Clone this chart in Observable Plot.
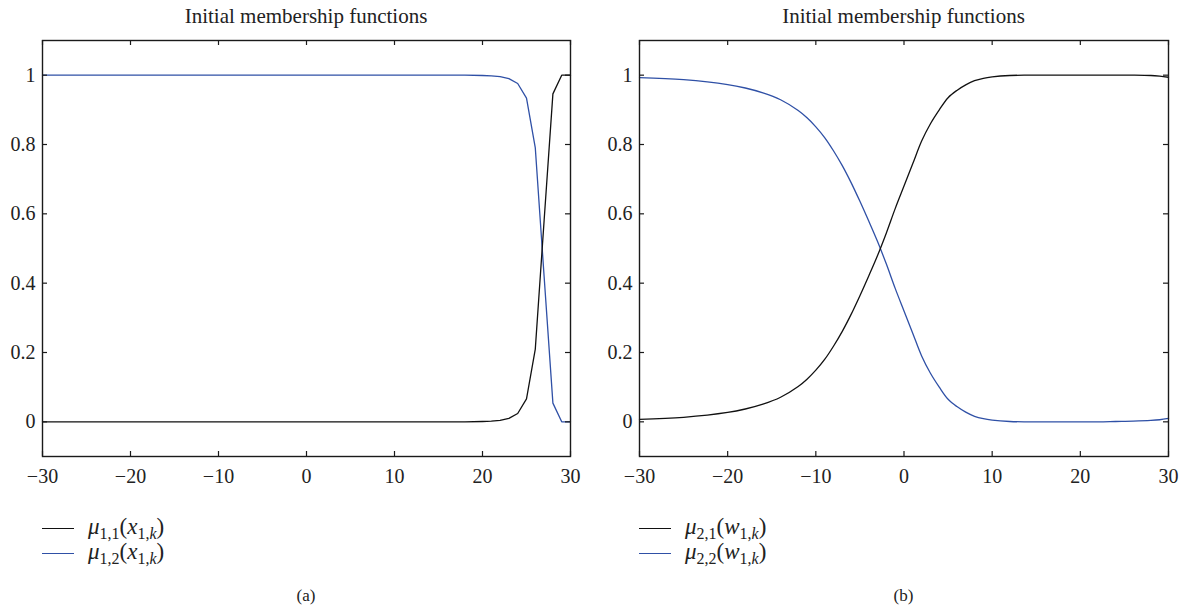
<!DOCTYPE html>
<html><head><meta charset="utf-8">
<script src="https://cdn.jsdelivr.net/npm/d3@7"></script>
<script src="https://cdn.jsdelivr.net/npm/@observablehq/plot@0.6"></script>
<style>
html,body{margin:0;padding:0;background:#fff;width:1183px;height:610px;overflow:hidden;font-family:"Liberation Serif",serif;color:#222}
.panel{position:absolute;top:0;height:610px}
.title{position:absolute;top:4px;font-size:21px;line-height:24px;text-align:center;white-space:nowrap}
.chart{position:absolute;top:30px;left:0}
.legend{position:absolute;top:514px;font-size:23px}
.row{position:relative;height:25px;width:220px}
.swatch{position:absolute;left:0;top:14px;width:32px;height:0;border-top:1.4px solid}
.lab{position:absolute;left:46px;top:0;white-space:nowrap;line-height:25px}
sub{font-size:16px;vertical-align:baseline;position:relative;top:5px}
.cap{position:absolute;top:586px;font-size:17px;text-align:center}
</style></head>
<body>
<script>
// ---- data ----
const titleText = "Initial membership functions";
const xTicks = [-30, -20, -10, 0, 10, 20, 30];
const yTicks = [0, 0.2, 0.4, 0.6, 0.8, 1];
const yTickLabels = ["0", "0.2", "0.4", "0.6", "0.8", "1"];

// Panel (a): μ1,1(x1,k), μ1,2(x1,k)
const xA = [-30, 15, 18, 20, 21, 22, 23, 24, 25, 26, 27, 28, 29, 30];
const mu11 = [0, 0, 0, 0.001, 0.002, 0.004, 0.01, 0.024, 0.066, 0.21, 0.58, 0.946, 1, 1];
const mu12 = [1, 1, 1, 0.999, 0.998, 0.996, 0.99, 0.976, 0.934, 0.79, 0.42, 0.054, 0, 0];

// Panel (b): μ2,1(w1,k), μ2,2(w1,k)
const xB = [-30, -25, -20, -18, -16, -14, -12, -11, -10, -9, -8, -7, -6, -5, -4, -3, -2, -1, 0, 1, 2, 3, 4, 5, 6, 7, 8, 9, 10, 12, 14, 18, 22, 24, 26, 28, 29, 30];
const mu21 = [0.007, 0.013, 0.027, 0.037, 0.051, 0.071, 0.102, 0.123, 0.149, 0.18, 0.218, 0.261, 0.31, 0.364, 0.421, 0.48, 0.545, 0.615, 0.68, 0.745, 0.81, 0.86, 0.90, 0.935, 0.956, 0.972, 0.984, 0.991, 0.995, 0.999, 1, 1, 1, 1, 1, 0.999, 0.997, 0.994];
const mu22 = [0.993, 0.987, 0.973, 0.963, 0.949, 0.929, 0.898, 0.877, 0.851, 0.82, 0.782, 0.739, 0.69, 0.636, 0.579, 0.52, 0.455, 0.385, 0.32, 0.255, 0.19, 0.14, 0.10, 0.065, 0.044, 0.028, 0.016, 0.009, 0.005, 0.001, 0, 0, 0, 0.001, 0.002, 0.004, 0.006, 0.01];

const legendA = ['<i>μ</i><sub>1,1</sub>(<i>x</i><sub>1,<i>k</i></sub>)', '<i>μ</i><sub>1,2</sub>(<i>x</i><sub>1,<i>k</i></sub>)'];
const legendB = ['<i>μ</i><sub>2,1</sub>(<i>w</i><sub>1,<i>k</i></sub>)', '<i>μ</i><sub>2,2</sub>(<i>w</i><sub>1,<i>k</i></sub>)'];
const captions = ["(a)", "(b)"];

const BLACK = "#111111", BLUE = "#2f50a6";

function makePlot(xs, ys1, ys2, curve, width, mr) {
  const H = 470, mt = 10, mb = 44, ml = 42;
  const fw = width - ml - mr, fh = H - mt - mb, tk = 5;
  const r1 = xs.map((x, i) => ({x, y: ys1[i]}));
  const r2 = xs.map((x, i) => ({x, y: ys2[i]}));
  return Plot.plot({
    width, height: H, marginTop: mt, marginBottom: mb, marginLeft: ml, marginRight: mr,
    style: {fontFamily: "Liberation Serif", fontSize: "20px", color: "#222", background: "transparent", overflow: "visible"},
    x: {domain: [-30, 30], label: null},
    y: {domain: [-0.1, 1.1], label: null},
    marks: [
      Plot.line(r2, {x: "x", y: "y", stroke: BLUE, strokeWidth: 1.3, curve}),
      Plot.line(r1, {x: "x", y: "y", stroke: BLACK, strokeWidth: 1.3, curve}),
      Plot.ruleX(xTicks, {x: d => d, insetTop: fh - tk, stroke: "#1a1a1a", strokeWidth: 1.2}),
      Plot.ruleX(xTicks, {x: d => d, insetBottom: fh - tk, stroke: "#1a1a1a", strokeWidth: 1.2}),
      Plot.ruleY(yTicks, {y: d => d, insetRight: fw - tk, stroke: "#1a1a1a", strokeWidth: 1.2}),
      Plot.ruleY(yTicks, {y: d => d, insetLeft: fw - tk, stroke: "#1a1a1a", strokeWidth: 1.2}),
      Plot.frame({stroke: "#1a1a1a", strokeWidth: 1.4}),
      Plot.axisX({ticks: xTicks, tickSize: 0, tickPadding: 12, fontSize: 20, fill: "#222", label: null,
        tickFormat: d => d < 0 ? "\u2212" + Math.abs(d) : String(d)}),
      Plot.axisY({ticks: yTicks, tickSize: 0, tickPadding: 7, fontSize: 20, fill: "#222", label: null,
        tickFormat: d => yTickLabels[yTicks.indexOf(d)]})
    ]
  });
}

function panel(left, width, mr, plot, legend, caption) {
  const ml = 42;
  const fw = width - ml - mr;
  const div = document.createElement("div");
  div.className = "panel";
  div.style.left = left + "px";
  div.style.width = width + "px";
  const t = document.createElement("div");
  t.className = "title";
  t.style.left = ml + "px"; t.style.width = fw + "px";
  t.textContent = titleText;
  div.appendChild(t);
  const c = document.createElement("div");
  c.className = "chart";
  c.appendChild(plot);
  div.appendChild(c);
  const lg = document.createElement("div");
  lg.className = "legend";
  lg.style.left = ml + "px";
  legend.forEach((html, i) => {
    const row = document.createElement("div");
    row.className = "row";
    row.innerHTML = `<span class="swatch" style="border-color:${i === 0 ? BLACK : BLUE}"></span><span class="lab">${html}</span>`;
    lg.appendChild(row);
  });
  div.appendChild(lg);
  const cap = document.createElement("div");
  cap.className = "cap";
  cap.style.left = ml + "px"; cap.style.width = fw + "px";
  cap.textContent = caption;
  div.appendChild(cap);
  document.body.appendChild(div);
}

panel(0, 600, 30, makePlot(xA, mu11, mu12, "linear", 600, 30), legendA, captions[0]);
panel(597, 586, 15, makePlot(xB, mu21, mu22, "catmull-rom", 586, 15), legendB, captions[1]);
</script>
</body></html>
